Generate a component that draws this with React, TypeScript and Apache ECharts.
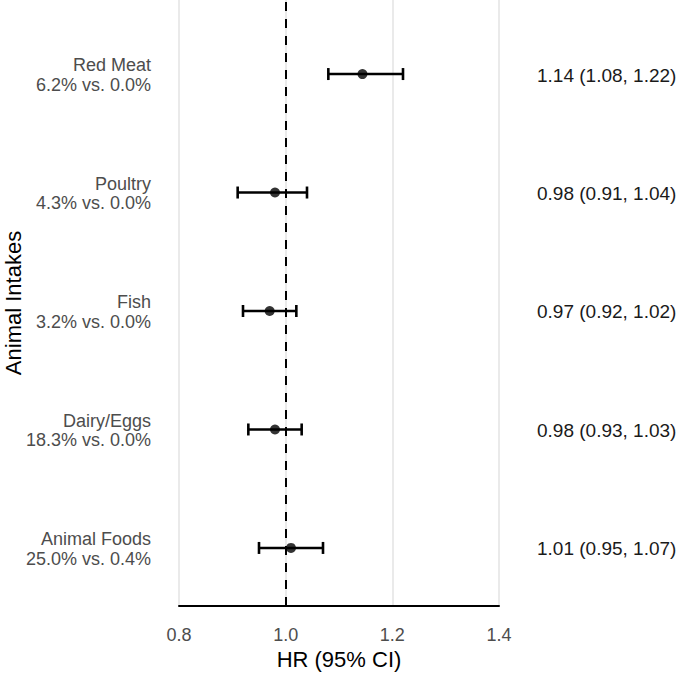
import React, { useEffect, useRef } from "react";
import * as echarts from "echarts";

const categories = ["Animal Foods", "Dairy/Eggs", "Fish", "Poultry", "Red Meat"];
const subLabels = ["25.0% vs. 0.4%", "18.3% vs. 0.0%", "3.2% vs. 0.0%", "4.3% vs. 0.0%", "6.2% vs. 0.0%"];
const hr = [1.01, 0.98, 0.97, 0.98, 1.144];
const lower = [0.95, 0.93, 0.92, 0.91, 1.08];
const upper = [1.07, 1.03, 1.02, 1.04, 1.22];
const xTicks = [0.8, 1.0, 1.2, 1.4];

const FONT = "Liberation Sans, Arial, sans-serif";

export default function App() {
  const ref = useRef<HTMLDivElement>(null);
  useEffect(() => {
    if (!ref.current) return;
    const chart = echarts.init(ref.current, undefined, { renderer: "svg" });
    const ciData = categories.map((c, i) => [lower[i], upper[i], i + 1, hr[i]]);
    const ptData = categories.map((c, i) => [hr[i], i + 1]);
    chart.setOption({
      animation: false,
      backgroundColor: "#ffffff",
      textStyle: { fontFamily: FONT },
      grid: { left: 179, right: 181, top: 0, bottom: 68, containLabel: false, outerBoundsMode: "none" },
      xAxis: {
        type: "value",
        min: xTicks[0],
        max: xTicks[xTicks.length - 1],
        interval: 0.2,
        name: "HR (95% CI)",
        nameLocation: "middle",
        nameGap: 39,
        nameTextStyle: { fontSize: 22, color: "#000", fontFamily: FONT },
        axisLine: { show: true, lineStyle: { color: "#000", width: 2 } },
        axisTick: { show: false },
        axisLabel: {
          margin: 20,
          fontSize: 18,
          color: "#4d4d4d",
          fontFamily: FONT,
          formatter: (v: number) => v.toFixed(1),
        },
        splitLine: { show: true, lineStyle: { color: "#e3e3e3", width: 1.5 } },
      },
      yAxis: {
        type: "value",
        min: 0.51,
        max: 5.625,
        name: "Animal Intakes",
        nameLocation: "middle",
        nameRotate: 90,
        nameGap: 155,
        nameTextStyle: { fontSize: 22, color: "#000", fontFamily: FONT },
        axisLine: { show: false },
        axisTick: { show: false },
        axisLabel: { show: false },
        splitLine: { show: false },
      },
      series: [
        {
          type: "custom",
          data: ciData,
          z: 3,
          renderItem: (params: any, api: any) => {
            const idx = params.dataIndex;
            const y = api.value(2);
            const p1 = api.coord([api.value(0), y]);
            const p2 = api.coord([api.value(1), y]);
            const cs = params.coordSys;
            const cap = 6;
            const ls = { stroke: "#000", lineWidth: 2.6 };
            return {
              type: "group",
              children: [
                { type: "line", shape: { x1: p1[0], y1: p1[1], x2: p2[0], y2: p2[1] }, style: ls },
                { type: "line", shape: { x1: p1[0], y1: p1[1] - cap, x2: p1[0], y2: p1[1] + cap }, style: ls },
                { type: "line", shape: { x1: p2[0], y1: p2[1] - cap, x2: p2[0], y2: p2[1] + cap }, style: ls },
                {
                  type: "text",
                  x: cs.x - 28,
                  y: p1[1] + 1,
                  style: {
                    text: categories[idx] + "\n" + subLabels[idx],
                    textAlign: "right",
                    textVerticalAlign: "middle",
                    fontSize: 18,
                    lineHeight: 19.5,
                    fill: "#4d4d4d",
                    fontFamily: FONT,
                  },
                },
                {
                  type: "text",
                  x: cs.x + cs.width + 38,
                  y: p1[1] + 1,
                  style: {
                    text: `${hr[idx].toFixed(2)} (${lower[idx].toFixed(2)}, ${upper[idx].toFixed(2)})`,
                    textAlign: "left",
                    textVerticalAlign: "middle",
                    fontSize: 19,
                    fill: "#1a1a1a",
                    fontFamily: FONT,
                  },
                },
              ],
            };
          },
        },
        {
          type: "scatter",
          data: ptData,
          z: 4,
          symbol: "circle",
          symbolSize: 10,
          itemStyle: { color: "#000" },
          markLine: {
            silent: true,
            symbol: "none",
            label: { show: false },
            lineStyle: { color: "#000", type: [9, 8], width: 2 },
            data: [{ xAxis: 1.0 }],
          },
        },
      ],
    });
    return () => chart.dispose();
  }, []);
  return <div ref={ref} style={{ position: "fixed", left: 0, top: 0, width: 680, height: 674 }} />;
}
